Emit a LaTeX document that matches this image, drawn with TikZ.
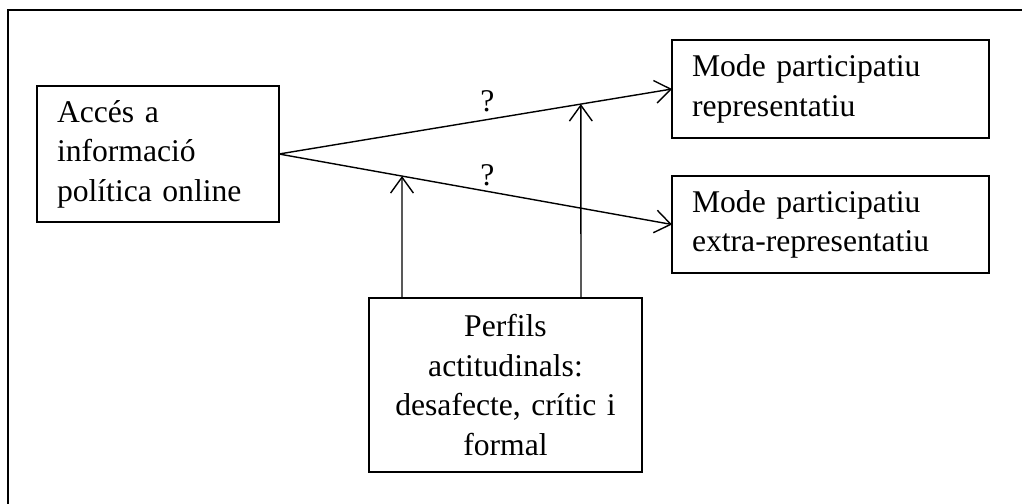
\documentclass[tikz,border=0pt]{standalone}
\usepackage{fontspec}
\setmainfont{Liberation Serif}
\usepackage{tikz}
\usetikzlibrary{arrows.meta,positioning,calc}

\begin{document}
\begin{tikzpicture}[x=0.02cm,y=-0.02cm,every node/.style={outer sep=0pt,line width=0.8pt,font=\fontsize{18}{22.5}\selectfont}]
\tikzstyle{caixa}=[draw,line width=0.8pt,inner xsep=0.4cm,inner ysep=0pt]
\tikzstyle{fletxa}=[line width=0.8pt,-{Straight Barb[length=9pt,width=13pt,line width=0.8pt]}]
\useasboundingbox (0,0) rectangle (1022,504);
% marc exterior
\begin{scope}
\clip (0,0) rectangle (1022,504);
\draw [line width=1.1pt] (8,10) rectangle (1040,520);
\end{scope}
% caixes
\node (acces) [caixa,text width=4.04cm,align=left,minimum height=2.72cm] at (158,154)
  {Accés a\\informació\\política online};
\node (repr) [caixa,text width=5.54cm,align=left,minimum height=1.96cm] at (830.5,89)
  {Mode participatiu\\representatiu};
\node (extra) [caixa,text width=5.54cm,align=left,minimum height=1.94cm] at (830.5,224.5)
  {Mode participatiu\\extra-representatiu};
\node (perfils) [caixa,text width=4.66cm,align=center,minimum height=3.48cm] at (505.5,385)
  {Perfils\\actitudinals:\\desafecte, crític i\\formal};
% relacions
\draw [fletxa] (acces.east) -- (repr.west) coordinate[pos=0.768] (m2)
  node[pos=0.53,above=1pt] {?};
\draw [fletxa] (acces.east) -- (extra.west) coordinate[pos=0.313] (m1)
  node[pos=0.53,above=0pt] {?};
\draw [fletxa] (perfils.north -| 402,0) -- (m1);
\draw [fletxa] (perfils.north -| 581,0) -- (m2);
\end{tikzpicture}
\end{document}
